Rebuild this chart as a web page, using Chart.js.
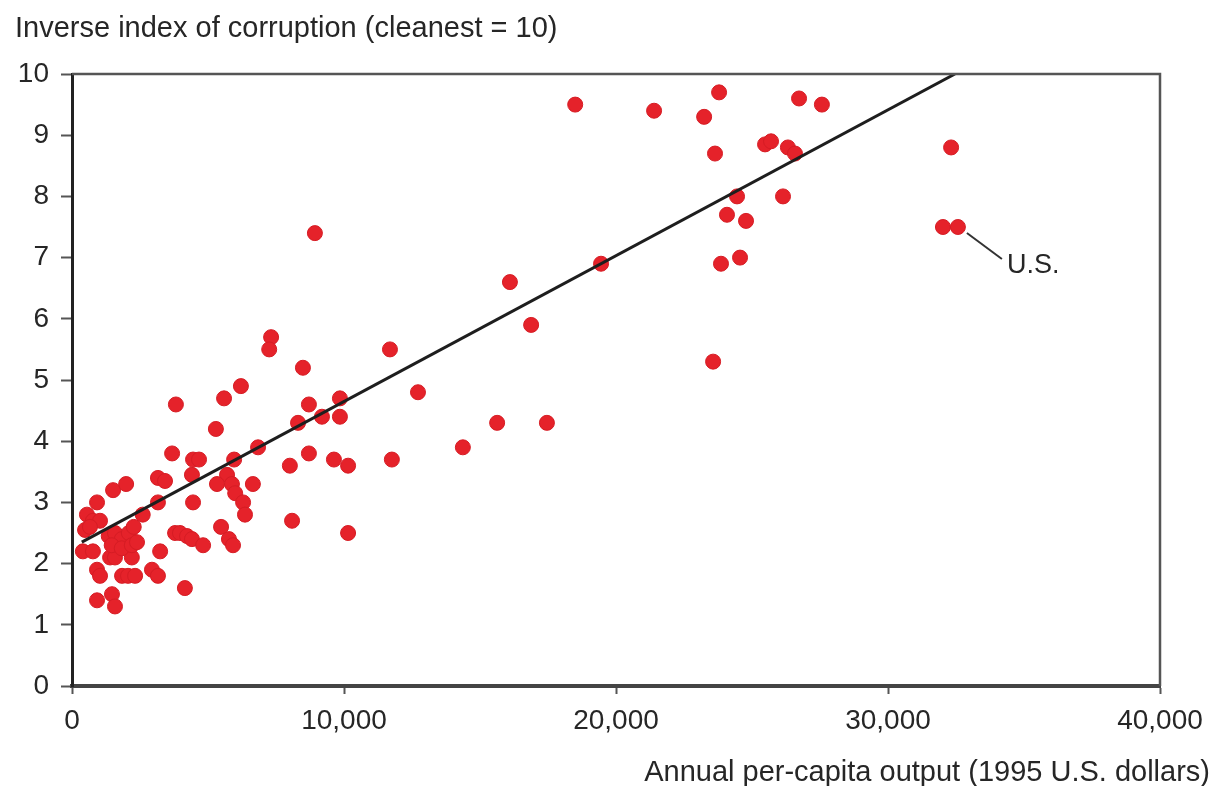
<!DOCTYPE html>
<html>
<head>
<meta charset="utf-8">
<script src="https://cdn.jsdelivr.net/npm/chart.js@4.4.1/dist/chart.umd.min.js"></script>
<style>
  html, body { margin: 0; padding: 0; background: #fff; }
  #wrap { width: 1226px; height: 786px; position: relative; }
</style>
</head>
<body>
<div id="wrap"><canvas id="corruptionChart"></canvas></div>
<script>
// per-capita output (1995 US$) and inverse corruption index
const gdpValues = [
  550, 920, 770, 1030, 480, 660, 400, 770, 920, 1030, 920, 1470, 1580, 1510, 1990,
  1840, 2060, 2320, 1400, 1580, 2200, 2600,
  1350, 1580, 1830, 2090, 2270, 1460, 1830, 2200, 2390,
  3160, 3420, 3160, 3240, 2940, 3160, 3790, 3970, 4230, 4410, 4820, 4150,
  3680, 3820, 4450, 4670, 4410, 4450, 5290, 5590, 6210, 5700, 5330, 5880, 5960,
  6000, 6290, 6360, 5480, 5770, 5920, 6650, 6840, 7320, 7250, 8490, 8710, 8310,
  9190, 9850, 9850, 8710, 8010, 9630, 10150, 8090, 10150, 8930,
  16100, 19450, 16880, 11690, 12720, 15630, 17460, 14370, 11760,
  18500, 21400, 23240, 23790, 23640, 26730, 27570, 25480, 25700, 26320, 26580,
  24450, 26140, 24080, 24780, 23860, 24560, 23570, 32320, 32020, 32570
];
const indexValues = [
  2.8, 3.0, 2.7, 2.7, 2.55, 2.6, 2.2, 2.2, 1.9, 1.8, 1.4, 1.5, 1.3, 3.2, 3.3,
  1.8, 1.8, 1.8, 2.1, 2.1, 2.1, 2.8,
  2.45, 2.5, 2.4, 2.5, 2.6, 2.3, 2.25, 2.3, 2.35,
  3.4, 3.35, 3.0, 2.2, 1.9, 1.8, 2.5, 2.5, 2.45, 2.4, 2.3, 1.6,
  3.8, 4.6, 3.7, 3.7, 3.45, 3.0, 4.2, 4.7, 4.9, 3.45, 3.3, 3.3, 3.7,
  3.15, 3.0, 2.8, 2.6, 2.4, 2.3, 3.3, 3.9, 5.7, 5.5, 5.2, 4.6, 4.3,
  4.4, 4.4, 4.7, 3.8, 3.6, 3.7, 3.6, 2.7, 2.5, 7.4,
  6.6, 6.9, 5.9, 5.5, 4.8, 4.3, 4.3, 3.9, 3.7,
  9.5, 9.4, 9.3, 9.7, 8.7, 9.6, 9.5, 8.85, 8.9, 8.8, 8.7,
  8.0, 8.0, 7.7, 7.6, 6.9, 7.0, 5.3, 8.8, 7.5, 7.5
];
// fitted line end points
const fitX = [360, 32460];
const fitY = [2.35, 10];
// labelled point
const usLabel = 'U.S.';
const usIndex = gdpValues.length - 1;

const xTicks = [0, 10000, 20000, 30000, 40000];
const yTitle = 'Inverse index of corruption (cleanest = 10)';
const xTitle = 'Annual per-capita output (1995 U.S. dollars)';

const textColor = '#262626';
const fontName = '"Liberation Sans", Arial, Helvetica, sans-serif';

const points = gdpValues.map((g, i) => ({ x: g, y: indexValues[i] }));
const fitLine = fitX.map((g, i) => ({ x: g, y: fitY[i] }));

// frame, titles and the U.S. note
const decorPlugin = {
  id: 'decor',
  afterDraw(chart) {
    const ctx = chart.ctx;
    const a = chart.chartArea;
    ctx.save();
    ctx.strokeStyle = '#555';
    ctx.lineWidth = 2.5;
    ctx.beginPath();
    ctx.moveTo(a.left, a.top);
    ctx.lineTo(a.right, a.top);
    ctx.lineTo(a.right, a.bottom);
    ctx.stroke();

    ctx.fillStyle = textColor;
    ctx.font = '29px ' + fontName;
    ctx.textBaseline = 'alphabetic';
    ctx.textAlign = 'left';
    ctx.fillText(yTitle, 15, 37);
    ctx.textAlign = 'right';
    ctx.fillText(xTitle, 1210, 781);

    const px = chart.scales.x.getPixelForValue(gdpValues[usIndex]);
    const py = chart.scales.y.getPixelForValue(indexValues[usIndex]);
    ctx.strokeStyle = '#333';
    ctx.lineWidth = 2;
    ctx.beginPath();
    ctx.moveTo(px + 9, py + 6);
    ctx.lineTo(px + 44, py + 32);
    ctx.stroke();
    ctx.textAlign = 'left';
    ctx.font = '27px ' + fontName;
    ctx.fillText(usLabel, px + 49, py + 46);
    ctx.restore();
  }
};

const ctx = document.getElementById('corruptionChart').getContext('2d');
const corruptionChart = new Chart(ctx, {
  type: 'scatter',
  data: {
    datasets: [
      {
        type: 'line',
        data: fitLine,
        borderColor: '#1e1e1e',
        borderWidth: 3,
        pointRadius: 0,
        fill: false,
        order: 0
      },
      {
        data: points,
        backgroundColor: '#e5222a',
        borderColor: '#d61c24',
        borderWidth: 1,
        pointRadius: 7.5,
        order: 1
      }
    ]
  },
  options: {
    responsive: true,
    maintainAspectRatio: false,
    animation: false,
    layout: { padding: { top: 74, right: 66, left: 0, bottom: 0 } },
    plugins: {
      legend: { display: false },
      tooltip: { enabled: false }
    },
    scales: {
      x: {
        type: 'linear',
        min: 0,
        max: 40000,
        afterFit(scale) { scale.height = 100; },
        afterBuildTicks(scale) { scale.ticks = xTicks.map(v => ({ value: v })); },
        border: { display: true, color: '#444', width: 4 },
        grid: { drawOnChartArea: false, drawTicks: true, tickLength: 8, tickColor: '#555', tickWidth: 2 },
        ticks: {
          color: textColor,
          font: { family: fontName, size: 28 },
          padding: 10,
          maxRotation: 0,
          callback: v => v.toLocaleString('en-US')
        }
      },
      y: {
        min: 0,
        max: 10,
        afterFit(scale) { scale.width = 72; },
        border: { display: true, color: '#222', width: 3 },
        grid: { drawOnChartArea: false, drawTicks: true, tickLength: 11, tickColor: '#555', tickWidth: 2 },
        ticks: {
          stepSize: 1,
          color: textColor,
          font: { family: fontName, size: 28 },
          padding: 12
        }
      }
    }
  },
  plugins: [decorPlugin]
});
</script>
</body>
</html>
